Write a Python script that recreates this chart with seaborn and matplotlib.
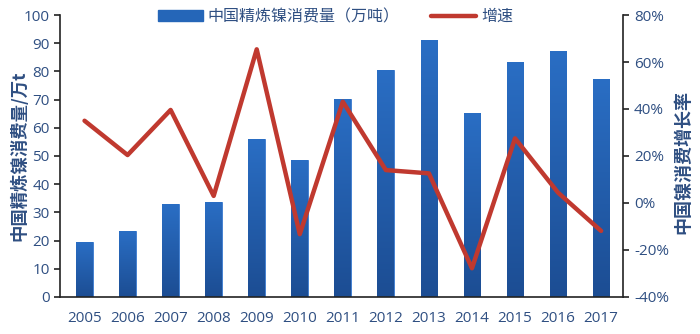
import matplotlib
matplotlib.use("Agg")
import matplotlib.pyplot as plt
import seaborn as sns
import pandas as pd
import numpy as np
from matplotlib.lines import Line2D
from matplotlib.patches import Patch
from matplotlib.colors import LinearSegmentedColormap

years = ["2005", "2006", "2007", "2008", "2009", "2010", "2011",
         "2012", "2013", "2014", "2015", "2016", "2017"]
consumption = [19.5, 23.4, 32.8, 33.8, 56.0, 48.7, 70.2, 80.6, 91.0, 65.2, 83.4, 87.3, 77.3]
growth = [35.0, 20.4, 39.6, 3.0, 65.4, -13.3, 43.1, 14.0, 12.6, -27.8, 27.5, 4.4, -11.9]
left_ticks = [0, 10, 20, 30, 40, 50, 60, 70, 80, 90, 100]
right_ticks = [-40, -20, 0, 20, 40, 60, 80]
bar_label = "中国精炼镍消费量（万吨）"
line_label = "增速"
left_title = "中国精炼镍消费量/万t"
right_title = "中国镍消费增长率"

df = pd.DataFrame({"year": years, "consumption": consumption, "growth": growth})

sns.set_style("white")
plt.rcParams["font.family"] = ["Open Sans", "Noto Sans CJK SC", "DejaVu Sans"]

text_color = "#2f4f82"
bar_color = "#2566b8"
line_color = "#c0392f"
axis_color = "#222222"
cjk = ["Noto Sans CJK SC", "DejaVu Sans"]

fig = plt.figure(figsize=(7, 3.34), dpi=100)
ax = fig.add_axes([0.0857, 0.111, 0.805, 0.844])

sns.barplot(data=df, x="year", y="consumption", ax=ax, color=bar_color,
            width=0.39, saturation=1, edgecolor="#3a7bd0", linewidth=0.6)
ax.set_xlabel("")
ax.set_ylabel(left_title, color=text_color, fontsize=12.5, fontweight="bold", family=cjk)
ax.yaxis.set_label_coords(-0.056, 0.5)

# vertical gradient on each bar
cmap = LinearSegmentedColormap.from_list("bluegrad", ["#1c4d93", "#2a6ec4"])
grad = np.linspace(0, 1, 256).reshape(-1, 1)
for p in list(ax.patches):
    x0, y0 = p.get_x(), p.get_y()
    w, h = p.get_width(), p.get_height()
    im = ax.imshow(grad, cmap=cmap, aspect="auto", origin="lower",
                   extent=[x0, x0 + w, y0, y0 + h], zorder=p.get_zorder() + 0.1)
    im.set_clip_path(p)
ax.set_xlim(-0.57, 12.52)
ax.set_ylim(0, 100)
ax.set_yticks(left_ticks)

ax2 = ax.twinx()
sns.pointplot(data=df, x="year", y="growth", ax=ax2, color=line_color,
              markers="", linewidth=3.2)
ax2.set_ylim(-40, 80)
ax2.set_yticks(right_ticks)
ax2.set_yticklabels([f"{t}%" for t in right_ticks])
ax2.set_xlim(-0.57, 12.52)
ax2.set_xlabel("")
ax2.set_ylabel(right_title, color=text_color, fontsize=13, fontweight="bold", family=cjk)
ax2.yaxis.set_label_coords(1.088, 0.48)

for a in (ax, ax2):
    a.spines["top"].set_visible(False)
    for s in ("left", "right", "bottom"):
        a.spines[s].set_color(axis_color)
        a.spines[s].set_linewidth(1.2)
    a.tick_params(axis="y", colors=text_color, labelsize=11, length=4, width=1.2,
                  color=axis_color, direction="out")
    a.tick_params(axis="x", colors=text_color, labelsize=11, length=0, pad=10)
ax.spines["right"].set_visible(False)
ax2.spines["left"].set_visible(False)
ax2.spines["bottom"].set_visible(False)
ax.grid(False)
ax2.grid(False)

handles = [Patch(facecolor=bar_color, edgecolor=bar_color),
           Line2D([0], [0], color=line_color, linewidth=3.2)]
fig.legend(handles, [bar_label, line_label], loc="center left",
           bbox_to_anchor=(0.205, 0.95), ncol=2, frameon=False,
           prop={"family": cjk, "size": 11.5},
           labelcolor=text_color, handlelength=2.8, handleheight=0.6,
           handletextpad=0.3, columnspacing=2.0)

fig.savefig("out.png", dpi=100)
